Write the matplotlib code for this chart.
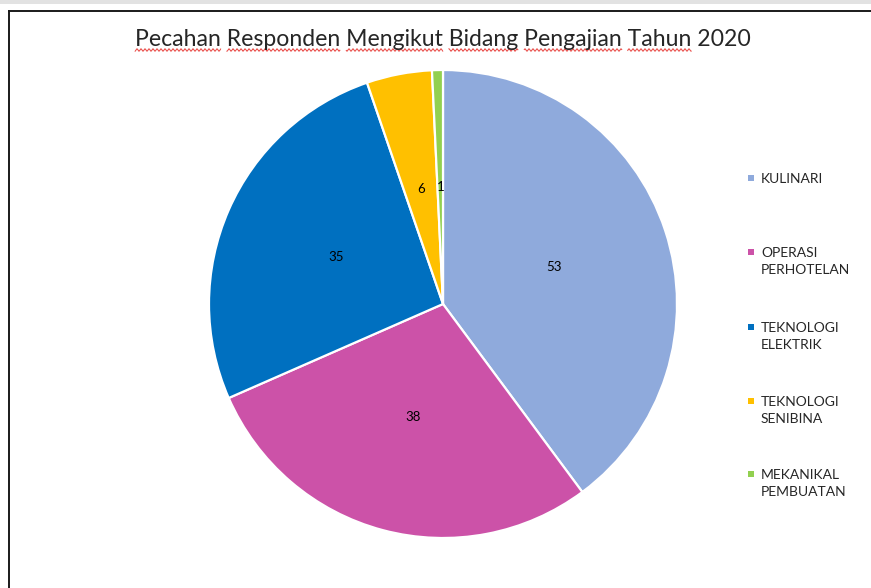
import matplotlib
matplotlib.use("Agg")
import matplotlib.pyplot as plt
import numpy as np
from matplotlib.lines import Line2D

# data
bidang = ["KULINARI", "OPERASI\nPERHOTELAN", "TEKNOLOGI\nELEKTRIK", "TEKNOLOGI\nSENIBINA", "MEKANIKAL\nPEMBUATAN"]
responden = [53, 38, 35, 6, 1]
warna = ["#8FAADC", "#CC52A8", "#0070C0", "#FFC000", "#92D050"]
tajuk = "Pecahan Responden Mengikut Bidang Pengajian Tahun 2020"

W, H = 871, 588
plt.rcParams["font.family"] = ["Lato", "DejaVu Sans"]
fig = plt.figure(figsize=(W / 100, H / 100), dpi=100)

def fx(px):
    return px / W

def fy(py):
    return 1 - py / H

# screenshot frame
fig.add_artist(plt.Rectangle((0, fy(4)), 1, 4 / H, transform=fig.transFigure, color="#e2e2e2", lw=0))
fig.add_artist(Line2D([fx(9), 1], [fy(11), fy(11)], transform=fig.transFigure, color="#1a1a1a", lw=1.4))
fig.add_artist(Line2D([fx(9), fx(9)], [fy(11), 0], transform=fig.transFigure, color="#1a1a1a", lw=1.4))

# pie
cx, cy, r = 443, 304, 234
ax = fig.add_axes([fx(cx - r), fy(cy + r), 2 * r / W, 2 * r / H])
total = sum(responden)
ax.pie(responden, colors=warna, startangle=90, counterclock=False,
       autopct=lambda p: f"{round(p * total / 100):d}", pctdistance=0.5,
       wedgeprops=dict(edgecolor="white", linewidth=1.6),
       textprops=dict(fontsize=9.5, color="black"))
ax.set_xlim(-1, 1)
ax.set_ylim(-1, 1)
ax.set_aspect("auto")
ax.axis("off")

# title
tsize = 16.6
t = fig.text(fx(443), fy(46), tajuk, ha="center", va="baseline", fontsize=tsize, color="#262626")

# red wavy spell-check underline under each word (except the year)
fig.canvas.draw()
rend = fig.canvas.get_renderer()
bb = t.get_window_extent(rend)
def width(s):
    tmp = fig.text(0, 0, s, fontsize=tsize)
    w = tmp.get_window_extent(rend).width
    tmp.remove()
    return w
words = tajuk.split(" ")
pos = 0
for w in words:
    start = tajuk.index(w, pos)
    pos = start + len(w)
    if w.isdigit():
        continue
    x0 = bb.x0 + width(tajuk[:start]) if start else bb.x0
    x1 = bb.x0 + width(tajuk[:pos])
    xs = np.arange(x0, x1, 0.5)
    ys = (H - 50) + 1.2 * np.sin(xs / 4.0 * 2 * np.pi)
    fig.add_artist(Line2D(xs / W, ys / H, transform=fig.transFigure, color="#e8433f", lw=0.7))

# legend
leg_y = [178, 252, 327, 401, 474]
for lab, col, y in zip(bidang, warna, leg_y):
    fig.add_artist(plt.Rectangle((fx(748), fy(y + 3)), 6 / W, 6 / H, transform=fig.transFigure, color=col, lw=0))
    fig.text(fx(761), fy(y - 5), lab, ha="left", va="top", fontsize=10, color="#262626",
             linespacing=1.5)

fig.savefig("out.png", dpi=100)
